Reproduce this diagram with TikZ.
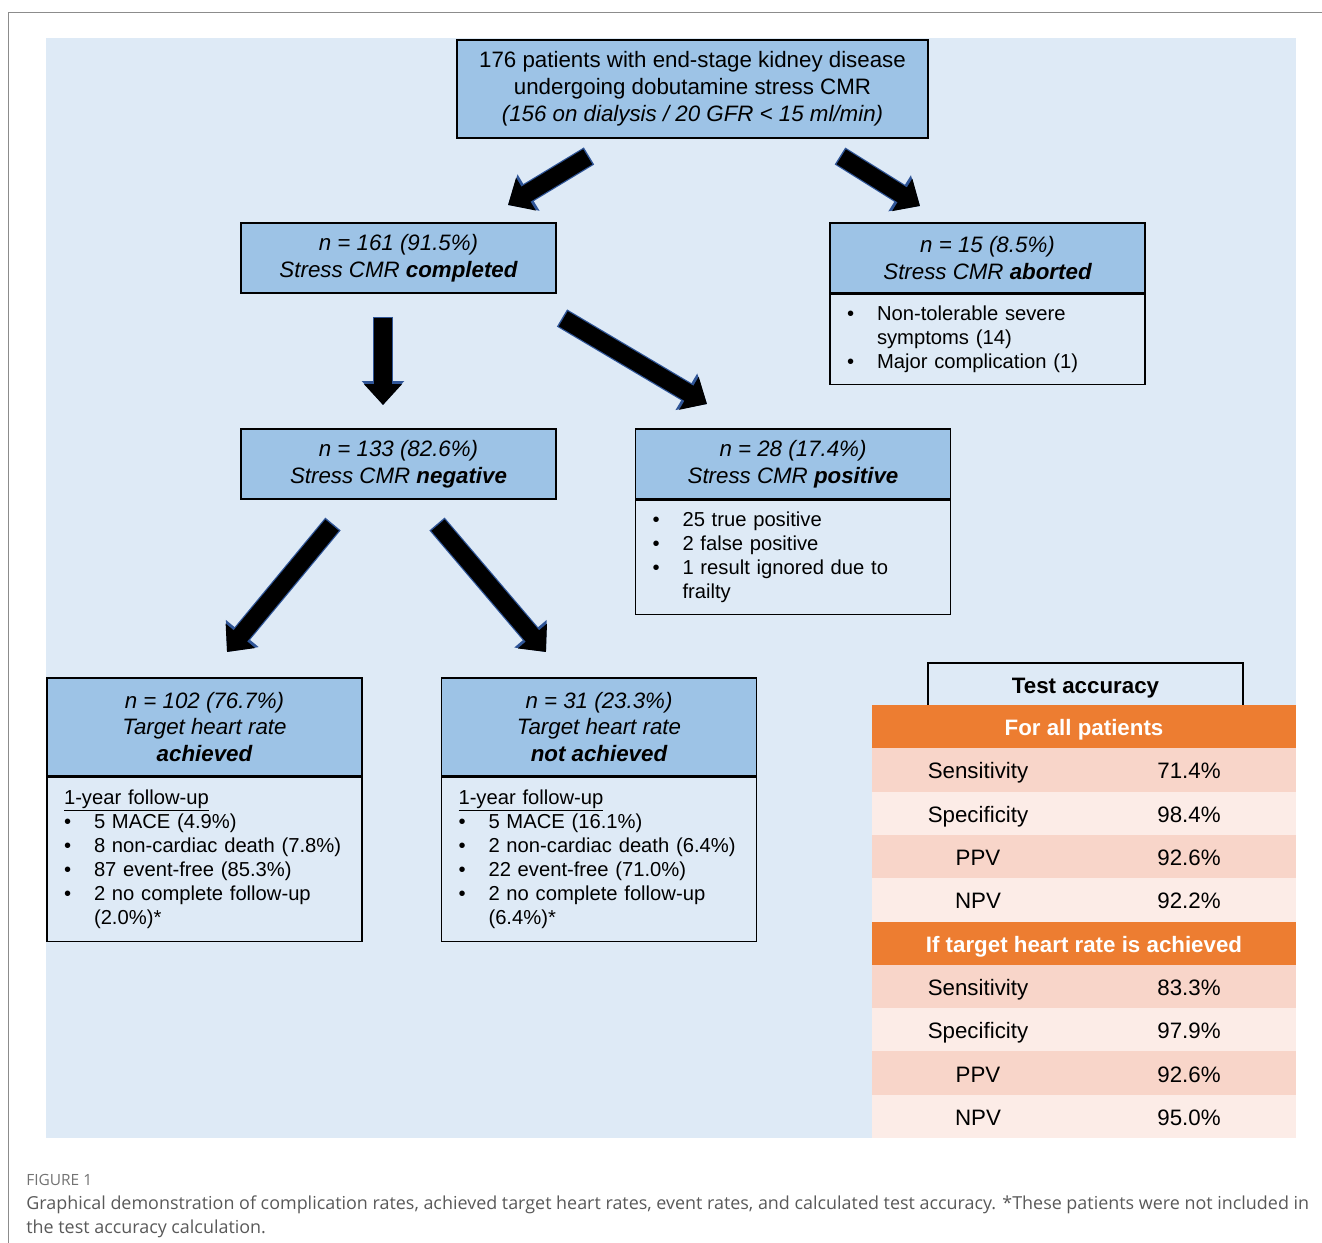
\documentclass[tikz,border=0pt]{standalone}
\usepackage{fontspec}
\setmainfont{Liberation Sans}
\newfontfamily\capfont{Open Sans}
\usetikzlibrary{
  positioning,
  arrows.meta
}
\definecolor{bgblue}{HTML}{DEEAF6}
\definecolor{hdblue}{HTML}{9DC3E6}
\definecolor{edgeblue}{HTML}{2F5597}
\definecolor{accorange}{HTML}{ED7D31}
\definecolor{rowdark}{HTML}{F8D5C9}
\definecolor{rowlight}{HTML}{FCECE7}
\definecolor{capgray}{HTML}{595959}
\definecolor{framegray}{HTML}{8C8C8C}

\newcommand\headfont{\fontsize{12.7}{15.3}\selectfont}
\newcommand\bodyfont{\fontsize{11.5}{13.6}\selectfont}
\newcommand\capsize{\fontsize{10.2}{13.6}\selectfont}

\tikzset{
  hdbox/.style={draw=black, line width=0.8pt, fill=hdblue, minimum width=6.3cm,
    align=center, inner sep=0pt, font=\headfont},
  hdit/.style={hdbox, minimum height=1.4cm, font=\headfont\itshape},
  bodybox/.style={draw=black, line width=0.8pt, fill=bgblue, text width=5.62cm,
    inner xsep=0.34cm, inner ysep=0pt, align=left, font=\bodyfont},
  fatedge/.style={line width=0.40cm, edgeblue, -{Triangle[width=0.82cm,length=0.48cm]}},
  fatarrow/.style={line width=0.35cm, black, shorten <=0.03cm,
    -{Triangle[width=0.74cm,length=0.42cm]}},
  tabrow/.style={minimum width=8.48cm, minimum height=0.866cm, inner sep=0pt,
    text height=10.2pt, text depth=0pt},
  tabhead/.style={tabrow, fill=accorange, text=white, font=\headfont\bfseries},
  tabtext/.style={inner sep=0pt, text height=10.2pt, text depth=0pt, font=\headfont}
}

\begin{document}
\begin{tikzpicture}[x=0.02cm, y=-0.02cm]
\useasboundingbox (0,0) rectangle (1322,1243);

% frame and background
\draw[framegray, line width=0.8pt] (8.5,1243) -- (8.5,12.5) -- (1322,12.5);
\fill[bgblue] (46,38) rectangle (1296,1138);

% flow boxes
\node[hdbox, minimum width=9.42cm, minimum height=1.96cm] (all) at (692.5,89)
  {176 patients with end-stage kidney disease\\
   undergoing dobutamine stress CMR\\
   \textit{(156 on dialysis / 20 GFR < 15 ml/min)}};

\node[hdit] (done) at (398.5,258) {n = 161 (91.5\%)\\Stress CMR \textbf{completed}};

\node[hdit] (abort) at (987.5,258) {n = 15 (8.5\%)\\Stress CMR \textbf{aborted}};
\node[bodybox, minimum height=1.8cm, below=0pt of abort] (abortbody)
  {\begin{tabular}{@{}p{0.6cm}@{}l@{}}
   \textbullet & Non-tolerable severe\\
               & symptoms (14)\\
   \textbullet & Major complication (1)
   \end{tabular}};

\node[hdit] (neg) at (398.5,464) {n = 133 (82.6\%)\\Stress CMR \textbf{negative}};

\node[hdit] (pos) at (793,464) {n = 28 (17.4\%)\\Stress CMR \textbf{positive}};
\node[bodybox, minimum height=2.28cm, below=0pt of pos] (posbody)
  {\begin{tabular}{@{}p{0.6cm}@{}l@{}}
   \textbullet & 25 true positive\\
   \textbullet & 2 false positive\\
   \textbullet & 1 result ignored due to\\
               & frailty
   \end{tabular}};

\node[hdit, minimum height=1.96cm] (hit) at (204.5,727)
  {n = 102 (76.7\%)\\Target heart rate\\\textbf{achieved}};
\node[bodybox, minimum height=3.28cm, below=0pt of hit] (hitbody)
  {\begin{tabular}{@{}p{0.6cm}@{}l@{}}
   \multicolumn{2}{@{}l@{}}{\underline{1-year follow-up}}\\
   \textbullet & 5 MACE (4.9\%)\\
   \textbullet & 8 non-cardiac death (7.8\%)\\
   \textbullet & 87 event-free (85.3\%)\\
   \textbullet & 2 no complete follow-up\\
               & (2.0\%)*
   \end{tabular}};

\node[hdit, minimum height=1.96cm] (miss) at (599,727)
  {n = 31 (23.3\%)\\Target heart rate\\\textbf{not achieved}};
\node[bodybox, minimum height=3.28cm, below=0pt of miss] (missbody)
  {\begin{tabular}{@{}p{0.6cm}@{}l@{}}
   \multicolumn{2}{@{}l@{}}{\underline{1-year follow-up}}\\
   \textbullet & 5 MACE (16.1\%)\\
   \textbullet & 2 non-cardiac death (6.4\%)\\
   \textbullet & 22 event-free (71.0\%)\\
   \textbullet & 2 no complete follow-up\\
               & (6.4\%)*
   \end{tabular}};

% block arrows
\coordinate (a1s) at (589,156); \coordinate (a1e) at (508,205);
\coordinate (a2s) at (840,156); \coordinate (a2e) at (920,206);
\coordinate (a3s) at (383,317); \coordinate (a3e) at (383,405);
\coordinate (a4s) at (562,318); \coordinate (a4e) at (707,404);
\coordinate (a5s) at (333,524); \coordinate (a5e) at (227,652);
\coordinate (a6s) at (437,524); \coordinate (a6e) at (546,652);
\foreach \s/\e in {a1s/a1e, a2s/a2e, a3s/a3e, a4s/a4e, a5s/a5e, a6s/a6e}
  {
  \draw[fatedge] (\s) -- (\e);
  \draw[fatarrow] (\s) -- (\e);
  }

% test accuracy table
\node[draw=black, line width=0.8pt, fill=bgblue, minimum width=6.3cm, minimum height=0.86cm,
  inner sep=0pt, text height=10.2pt, text depth=0pt, font=\headfont\bfseries]
  (acc) at (1085.5,684.5) {Test accuracy};

\foreach \lab/\r in {For all patients/0, If target heart rate is achieved/5}
  \node[tabhead] (th\r) at (1084,{726.65+43.3*\r}) {\lab};

\foreach \lab/\val/\r/\c in {Sensitivity/71.4\%/1/rowdark, Specificity/98.4\%/2/rowlight,
    PPV/92.6\%/3/rowdark, NPV/92.2\%/4/rowlight, Sensitivity/83.3\%/6/rowdark,
    Specificity/97.9\%/7/rowlight, PPV/92.6\%/8/rowdark, NPV/95.0\%/9/rowlight}
  {
  \node[tabrow, fill=\c] (row\r) at (1084,{726.65+43.3*\r}) {};
  \node[tabtext] (lab\r) at (978,{726.65+43.3*\r}) {\lab};
  \node[tabtext] (val\r) at (1189,{726.65+43.3*\r}) {\val};
  }

% caption
\node[anchor=base west, inner sep=0pt, text=capgray!85, font=\capfont\fontsize{8.8}{10}\selectfont]
  (fig) at (26,1185) {FIGURE 1};
\node[anchor=base west, inner sep=0pt, text=capgray, font=\capfont\capsize]
  (cap1) at (26,1209) {Graphical demonstration of complication rates, achieved target heart rates, event rates, and calculated test accuracy. *These patients were not included in};
\node[anchor=base west, inner sep=0pt, text=capgray, font=\capfont\capsize]
  (cap2) at (26,1233) {the test accuracy calculation.};

\end{tikzpicture}
\end{document}
